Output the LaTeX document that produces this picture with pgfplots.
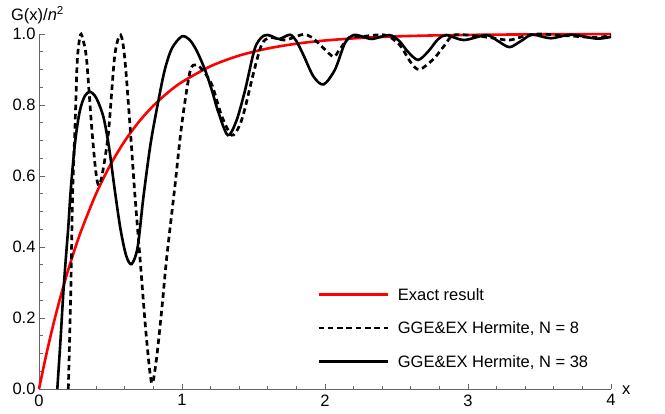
\documentclass[border=0pt]{standalone}
\usepackage{fontspec}
\setmainfont{Liberation Sans}
\usepackage{pgfplots}
\usepackage{pgfplotstable}
\pgfplotsset{compat=1.18}

\pgfplotstableread{
x y
0 0
0.05 0.0952
0.1 0.1813
0.15 0.2592
0.2 0.3297
0.25 0.3935
0.3 0.4512
0.4 0.5507
0.5 0.6321
0.6 0.6988
0.7 0.7534
0.8 0.7981
0.9 0.8347
1.0 0.8647
1.2 0.9093
1.4 0.9392
1.6 0.9592
1.8 0.9727
2.0 0.9817
2.25 0.9889
2.5 0.9933
2.75 0.9959
3.0 0.9975
3.5 0.9991
4.0 0.9997
}\exact

\pgfplotstableread{
x y
0.205 0
0.222 0.27
0.235 0.55
0.252 0.74
0.268 0.927
0.29 0.998
0.31 0.98
0.333 0.927
0.368 0.74
0.395 0.62
0.415 0.575
0.44 0.60
0.485 0.72
0.53 0.94
0.571 0.997
0.60 0.93
0.636 0.744
0.67 0.55
0.706 0.37
0.75 0.15
0.788 0.017
0.82 0.08
0.86 0.23
0.893 0.37
0.95 0.57
0.998 0.744
1.056 0.894
1.10 0.913
1.15 0.895
1.21 0.856
1.277 0.77
1.347 0.715
1.40 0.74
1.44 0.79
1.50 0.89
1.557 0.97
1.615 0.99
1.71 0.983
1.78 0.99
1.85 0.999
1.91 0.99
1.99 0.96
2.06 0.936
2.10 0.955
2.17 0.99
2.26 0.993
2.42 0.997
2.52 0.97
2.60 0.92
2.66 0.90
2.76 0.93
2.84 0.97
2.90 0.997
3.05 0.995
3.15 0.99
3.29 0.983
3.40 0.995
3.50 1.0
3.70 0.995
3.90 0.99
4.0 0.997
}\neight

\pgfplotstableread{
x y
0.128 0
0.15 0.135
0.17 0.27
0.19 0.38
0.205 0.457
0.22 0.55
0.24 0.645
0.26 0.72
0.287 0.786
0.32 0.825
0.357 0.837
0.40 0.82
0.45 0.767
0.49 0.68
0.53 0.56
0.57 0.45
0.61 0.375
0.648 0.352
0.69 0.40
0.73 0.54
0.78 0.69
0.834 0.81
0.88 0.90
0.93 0.96
0.998 0.993
1.05 0.985
1.10 0.955
1.16 0.90
1.21 0.84
1.254 0.78
1.32 0.715
1.38 0.755
1.44 0.84
1.51 0.96
1.57 0.995
1.62 0.995
1.68 0.986
1.755 0.998
1.80 0.98
1.85 0.94
1.92 0.88
1.99 0.858
2.07 0.90
2.14 0.975
2.20 0.997
2.26 0.993
2.33 0.986
2.45 0.997
2.52 0.98
2.58 0.95
2.65 0.927
2.72 0.95
2.79 0.985
2.85 0.997
2.97 0.983
3.13 0.997
3.21 0.98
3.29 0.963
3.37 0.98
3.45 0.998
3.58 0.988
3.72 0.998
3.90 0.987
4.0 0.992
}\nthirtyeight

\begin{document}
\begin{tikzpicture}[font=\fontsize{16.5}{19.8}\selectfont]
\begin{axis}[
  scale only axis, width=572pt, height=355pt,
  xmin=0, xmax=4, ymin=0, ymax=1,
  axis lines*=left,
  axis line style={black!60, line width=0.9pt},
  tick style={black!60, line width=0.9pt},
  tick align=inside,
  major tick length=5.5pt, minor tick length=3.5pt,
  xtick={0,1,2,3,4}, minor x tick num=4,
  ytick={0,0.2,0.4,0.6,0.8,1.0}, minor y tick num=3,
  yticklabel style={/pgf/number format/.cd, fixed, fixed zerofill, precision=1},
  xticklabel style={yshift=-2pt},
  /pgf/number format/assume math mode=true,
  clip=false,
  legend cell align=left,
  legend style={draw=none, fill=none, at={(axis cs:1.944,0.2845)}, anchor=north west,
    inner sep=0pt, row sep=17.5pt, column sep=9pt,
    nodes={inner sep=0pt, text height=12pt, text depth=4pt, anchor=base west}},
  legend image code/.code={\draw[#1] (0pt,5.8pt) -- (69pt,5.8pt);},
]
\addplot[red, line width=2.6pt, smooth, tension=0.5] table {\exact};
\addlegendentry{Exact result}
\addplot[black, line width=2.7pt, dash pattern=on 5.5pt off 3.8pt, smooth, tension=0.5] table {\neight};
\addlegendentry{GGE\&EX Hermite, N = 8}
\addplot[black, line width=2.6pt, smooth, tension=0.5] table {\nthirtyeight};
\addlegendentry{GGE\&EX Hermite, N = 38}
\coordinate (O) at (rel axis cs:0,0);
\node[anchor=west, xshift=7.5pt, yshift=-1pt] at (rel axis cs:1,0) {x};
\node[anchor=base, xshift=-1.5pt, yshift=13pt] at (rel axis cs:0,1) {G(x)/\textit{n}\textsuperscript{2}};
\end{axis}
\pgfresetboundingbox
\path[use as bounding box] ([shift={(-39pt,-24pt)}]O) rectangle ([shift={(626pt,389pt)}]O);
\end{tikzpicture}
\end{document}
